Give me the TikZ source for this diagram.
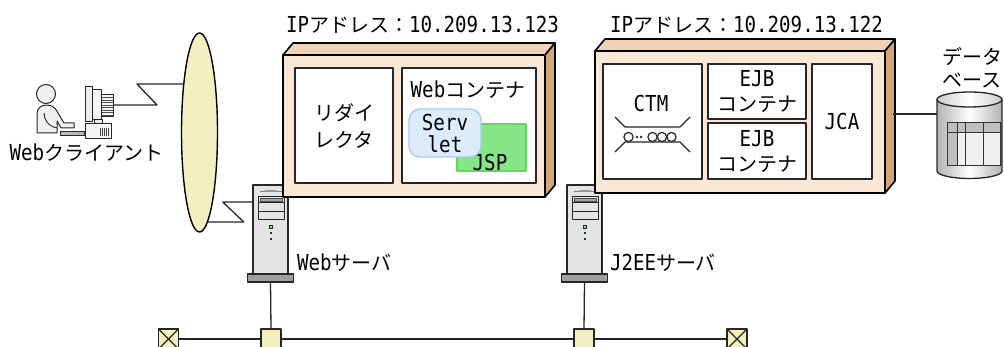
\documentclass[tikz,border=0pt]{standalone}
\usepackage{fontspec}
\setmainfont{Noto Sans CJK JP}
\newfontfamily\latfont{DejaVu Sans Mono}[FakeStretch=0.87, Scale=1.1]
\newcommand\la[1]{{\latfont #1}}
\usetikzlibrary{shapes.geometric,calc}

\definecolor{boxfront}{RGB}{250,231,214}
\definecolor{boxtop}{RGB}{240,210,182}
\definecolor{boxside}{RGB}{212,165,118}
\definecolor{lanfill}{RGB}{242,240,192}
\definecolor{servfill}{RGB}{220,236,252}
\definecolor{servline}{RGB}{168,204,240}
\definecolor{jspfill}{RGB}{132,230,132}
\definecolor{jspline}{RGB}{100,214,100}
\definecolor{towerfill}{RGB}{228,228,228}
\definecolor{ledgreen}{RGB}{110,240,110}

\begin{document}
\begin{tikzpicture}[x=1pt, y=-1pt, font=\fontsize{20}{25}\selectfont, line join=round,
  every node/.style={inner sep=0pt, outer sep=0pt},
  frontbox/.style={draw, line width=1.6pt, fill=boxfront, anchor=north west},
  topface/.style={draw, line width=1.6pt, fill=boxtop},
  sideface/.style={draw, line width=1.6pt, fill=boxside},
  innerbox/.style={draw=black!85, line width=1.4pt, fill=white, anchor=north west, align=center},
  wire/.style={draw=black!85, line width=1.3pt},
  hub/.style={draw=black!85, line width=1.3pt, fill=lanfill, minimum size=20pt, anchor=north},
  xterm/.style={hub, path picture={\draw[line width=1.1pt]
      (path picture bounding box.north west) -- (path picture bounding box.south east)
      (path picture bounding box.south west) -- (path picture bounding box.north east);}},
  tower/.pic={
    \node[draw=black!85, line width=1.3pt, fill=towerfill, minimum width=35pt,
          minimum height=89pt, anchor=north west] (-body) at (0,0) {};
    \draw[gray, line width=0.8pt] (7,6) -- (29,6);
    \fill[gray!80] (12,4.8) rectangle (24,7.2);
    \draw[black!85, line width=1pt, fill=towerfill] (5,12) rectangle (31,18);
    \draw[black!70, line width=0.6pt, fill=gray!70] (7,13.6) rectangle (29,16.4);
    \draw[black!85, line width=1pt] (5,18) rectangle (31,27);
    \draw[black!85, line width=1pt] (5,27) rectangle (31,35);
    \draw[black!85, line width=0.8pt, fill=ledgreen] (16.3,40.3) rectangle (19.7,43.7);
    \fill[black!80] (17,47) rectangle (19,49.2);
    \fill[black!80] (17,53) rectangle (19,55.2);
    \node[draw=black!85, line width=1.3pt, fill=gray!75!black!60, minimum width=46pt,
          minimum height=8pt, anchor=north] (-base) at (17.5,89) {};
  }
]
\useasboundingbox (0,0) rectangle (1004,347);

% ---------- Web client ----------
\draw[black!85, line width=1pt, fill=gray!12] (46,94) circle (9.5);
\draw[black!85, line width=1pt, fill=gray!12]
  (37,133) -- (37,114) .. controls (37,108) and (41,105) .. (47,105)
  .. controls (53,105) and (56,109) .. (58,113) -- (64,123) -- (74,123)
  -- (74,128) -- (61,128) -- (57,121) -- (57,133) -- cycle;
\draw[black!85, line width=0.9pt] (44,113) .. controls (44,120) and (48,126) .. (57,128);
\draw[black!85, line width=0.9pt, fill=gray!55] (60,131) rectangle (84,135);
\draw[black!85, line width=1pt, fill=gray!8] (93,95) rectangle (113,117);
\foreach \yy in {97.5,100,102.5,105,107.5,110,112.5,115}
  \draw[black!70, line width=0.6pt] (101,\yy) -- (113,\yy);
\draw[black!85, line width=1pt, fill=gray!8] (89,90) rectangle (101,120);
\draw[black!85, line width=1pt, fill=gray!15] (85,87) rectangle (92,122);
\draw[black!85, line width=1pt, fill=gray!15] (94,120) rectangle (102,124);
\draw[black!85, line width=1pt, fill=gray!8] (85,124) rectangle (111,139);
\foreach \xx in {100,102,104,106,108}
  \draw[black!75, line width=0.6pt] (\xx,128) -- (\xx,136);
\coordinate (cport) at (113,105);
\node (clientlbl) at (86.5,153) {\la{Web}クライアント};

% ---------- network ----------
\node[draw=black, ellipse, line width=1.4pt, fill=lanfill, minimum width=36pt,
      minimum height=199pt] (lan) at (199.5,132.5) {};
\draw[wire] (cport) -- ++(44,0) -- ++(-20,-21) coordinate (z1) -- (z1 -| lan.109);

\pic (web) at (253,185) {tower};
\pic (ap) at (567,185) {tower};
\draw[wire] (lan.-85) -- ++(36.5,0) -- ++(-21,-20) coordinate (z2) -- (z2 -| web-body.west);
\node[anchor=west] (weblbl) at (297,263) {\la{Web}サーバ};
\node[anchor=west] (aplbl) at (610,263) {\la{J2EE}サーバ};

\node[xterm] (termL) at (168.5,329) {};
\node[hub] (webhub) at (271,329) {};
\node[hub] (aphub) at (584,329) {};
\node[xterm] (termR) at (737,329) {};
\draw[wire] (termL.east) -- (webhub.west);
\draw[wire] (webhub.east) -- (aphub.west);
\draw[wire] (aphub.east) -- (termR.west);
\draw[wire] (web-base.south) -- (webhub.north);
\draw[wire] (ap-base.south) -- (aphub.north);

% ---------- Web server host ----------
\node (webip) at (422.5,25) {\la{IP}アドレス：\la{10.209.13.123}};
\node[frontbox, minimum width=262pt, minimum height=142pt] (webbox) at (283,55) {};
\draw[topface] (webbox.north west) -- ++(10,-12) -- ($(webbox.north east)+(10,-12)$)
  -- (webbox.north east) -- cycle;
\draw[sideface] (webbox.north east) -- ++(10,-12) -- ($(webbox.south east)+(10,-12)$)
  -- (webbox.south east) -- cycle;
\node[innerbox, minimum width=98pt, minimum height=115pt] (redir) at (295,68)
  {リダイ\\[2pt]レクタ};
\node[innerbox, minimum width=134pt, minimum height=115pt] (webcont) at (402,68) {};
\node (webcontlbl) at (468,90) {\la{Web}コンテナ};
\node[draw=jspline, line width=1.2pt, fill=jspfill, minimum width=69pt,
      minimum height=47pt, anchor=north west] (jsp) at (457,124) {};
\node (jsplbl) at (490,162) {\la{JSP}};
\node[draw=servline, line width=1.4pt, fill=servfill, rounded corners=11pt,
      minimum width=72pt, minimum height=48pt, anchor=north west, align=center,
      font=\fontsize{20}{22}\selectfont] (servlet) at (409,109) {\la{Serv}\\\la{let}};

% ---------- J2EE server host ----------
\node (apip) at (746.5,25) {\la{IP}アドレス：\la{10.209.13.122}};
\node[frontbox, minimum width=290pt, minimum height=142pt] (apbox) at (595,51) {};
\draw[topface] (apbox.north west) -- ++(10,-12) -- ($(apbox.north east)+(10,-12)$)
  -- (apbox.north east) -- cycle;
\draw[sideface] (apbox.north east) -- ++(10,-12) -- ($(apbox.south east)+(10,-12)$)
  -- (apbox.south east) -- cycle;
\node[innerbox, minimum width=99pt, minimum height=115pt] (ctm) at (603,64) {};
\node (ctmlbl) at (651,103.5) {\la{CTM}};
\node[innerbox, minimum width=98pt, minimum height=55pt] (ejbA) at (708,64)
  {\la{EJB}\\コンテナ};
\node[innerbox, minimum width=98pt, minimum height=56pt] (ejbB) at (708,123)
  {\la{EJB}\\コンテナ};
\node[innerbox, minimum width=60pt, minimum height=115pt] (jca) at (812,64) {\la{JCA}};

% CTM queue symbol
\draw[black!85, line width=1.2pt] (615,117) -- (625,127) -- (680,127) -- (690,117);
\draw[black!85, line width=1.2pt] (615,152) -- (625,142) -- (680,142) -- (690,152);
\foreach \cx in {628.5,652.5,662,671.5}
  \draw[black!85, line width=1.2pt] (\cx,137) circle (4.6);
\fill[black!85] (637,137) circle (1.3) (641,137) circle (1.3);

% ---------- database ----------
\coordinate (apport) at (893,114);
\coordinate (dbport) at (937,114);
\draw[wire] (apport) -- (dbport);
\shade[left color=gray!60, right color=gray!60, middle color=white]
  (937,99.5) rectangle (1002,171);
\shade[left color=gray!60, right color=gray!60, middle color=white]
  (969.5,171) ellipse [x radius=32.5, y radius=7.5];
\draw[black!85, line width=1.3pt] (937,99.5) -- (937,171)
  arc[start angle=180, end angle=0, x radius=32.5, y radius=7.5] -- (1002,99.5);
\draw[black!85, line width=1.3pt, left color=gray!40, right color=gray!40, middle color=white]
  (969.5,99.5) ellipse [x radius=32.5, y radius=7.5];
\draw[black!80, line width=0.9pt, fill=gray!12] (947,122) rectangle (1000,165);
\fill[gray!50] (947,122) rectangle (1000,132);
\fill[gray!50] (947,132) rectangle (957,165);
\draw[black!80, line width=0.9pt] (947,122) rectangle (1000,165)
  (947,132) -- (1000,132) (957,122) -- (957,165) (965,122) -- (965,165)
  (983,122) -- (983,165);
\node[anchor=north west, align=left, font=\fontsize{20}{23}\selectfont] (dblbl)
  at (942,47) {データ\\ベース};
\end{tikzpicture}
\end{document}
